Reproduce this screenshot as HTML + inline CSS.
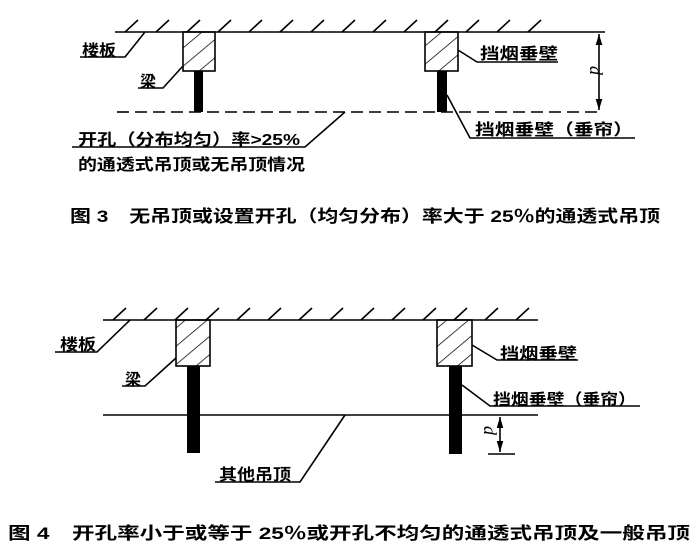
<!DOCTYPE html>
<html><head><meta charset="utf-8"><style>
html,body{margin:0;padding:0;background:#fff;}
svg{display:block;font-family:"Liberation Sans","Noto Sans CJK SC",sans-serif;}
</style></head><body>
<svg width="700" height="556" viewBox="0 0 700 556" xmlns="http://www.w3.org/2000/svg">
<defs>
<pattern id="h" width="14" height="14" patternUnits="userSpaceOnUse" patternTransform="rotate(-40)">
<line x1="0" y1="0" x2="14" y2="0" stroke="#000" stroke-width="1.5"/>
</pattern>
<marker id="a" viewBox="0 0 10 10" refX="10" refY="5" markerWidth="7" markerHeight="7" orient="auto-start-reverse">
<path d="M0,2 L10,5 L0,8 z" fill="#000"/>
</marker>
</defs>
<g stroke="#000" stroke-width="1.6" fill="none">
<line x1="115" y1="32" x2="605" y2="32"/>
<path d="M125,32l13,-12 M156,32l13,-12 M187,32l13,-12 M218,32l13,-12 M249,32l13,-12 M280,32l13,-12 M311,32l13,-12 M342,32l13,-12 M373,32l13,-12 M404,32l13,-12 M435,32l13,-12 M466,32l13,-12 M497,32l13,-12 M528,32l13,-12"/>
<rect x="183" y="32" width="32" height="39" fill="url(#h)"/>
<rect x="425" y="32" width="33" height="39" fill="url(#h)"/>
<line x1="117" y1="112" x2="603" y2="112" stroke-dasharray="12,6"/>
<line x1="599" y1="34" x2="599" y2="110" marker-start="url(#a)" marker-end="url(#a)"/>
<path d="M80,57 H125 L145,32"/>
<path d="M138,88 H163 L183,66"/>
<path d="M458,50 L477,62 H558"/>
<path d="M447,95 L470,138 H635"/>
<path d="M72,147 H305 L345,112"/>
<line x1="103" y1="320" x2="538" y2="320"/>
<path d="M113,320l13,-12 M144,320l13,-12 M175,320l13,-12 M206,320l13,-12 M237,320l13,-12 M268,320l13,-12 M299,320l13,-12 M330,320l13,-12 M361,320l13,-12 M392,320l13,-12 M423,320l13,-12 M454,320l13,-12 M485,320l13,-12 M516,320l13,-12"/>
<rect x="176" y="320" width="34" height="46" fill="url(#h)"/>
<rect x="437" y="320" width="35" height="46" fill="url(#h)"/>
<line x1="103" y1="415" x2="538" y2="415"/>
<line x1="500" y1="417" x2="500" y2="452" marker-start="url(#a)" marker-end="url(#a)"/>
<line x1="488" y1="454" x2="515" y2="454"/>
<path d="M55,352 H97 L130,320"/>
<path d="M122,386 H145 L176,358"/>
<path d="M472,345 L497,360 H578"/>
<path d="M462,385 L490,406 H640"/>
<path d="M215,482 H300 L345,415"/>
</g>
<g fill="#000">
<rect x="194" y="71" width="9" height="41"/>
<rect x="437" y="71" width="10" height="41"/>
<rect x="187" y="366" width="13" height="87"/>
<rect x="449" y="366" width="13" height="88"/>
</g>
<g font-size="16" fill="#000" font-weight="bold">
<text x="82" y="56" textLength="34" lengthAdjust="spacingAndGlyphs">楼板</text>
<text x="140" y="87">梁</text>
<text x="480" y="59" textLength="78" lengthAdjust="spacingAndGlyphs">挡烟垂壁</text>
<text x="475" y="135" textLength="158" lengthAdjust="spacingAndGlyphs">挡烟垂壁（垂帘）</text>
<text x="78" y="145" textLength="222" lengthAdjust="spacingAndGlyphs">开孔（分布均匀）率&gt;25%</text>
<text x="78" y="170" textLength="227" lengthAdjust="spacingAndGlyphs">的通透式吊顶或无吊顶情况</text>
<text x="60" y="350" textLength="36" lengthAdjust="spacingAndGlyphs">楼板</text>
<text x="125" y="385">梁</text>
<text x="500" y="359" textLength="77" lengthAdjust="spacingAndGlyphs">挡烟垂壁</text>
<text x="493" y="405" textLength="143" lengthAdjust="spacingAndGlyphs">挡烟垂壁（垂帘）</text>
<text x="219" y="480" textLength="72" lengthAdjust="spacingAndGlyphs">其他吊顶</text>
</g>
<g font-style="italic" font-family="Liberation Serif,serif" font-size="18" fill="#000">
<text x="590" y="66" transform="rotate(90 590 66)">d</text>
<text x="484" y="426" transform="rotate(90 484 426)">d</text>
</g>
<g font-size="17" fill="#000" font-weight="bold">
<text x="70" y="222" textLength="590" lengthAdjust="spacingAndGlyphs">图 3　无吊顶或设置开孔（均匀分布）率大于 25％的通透式吊顶</text>
<text x="8" y="539" textLength="682" lengthAdjust="spacingAndGlyphs">图 4　开孔率小于或等于 25％或开孔不均匀的通透式吊顶及一般吊顶</text>
</g>
</svg>
</body></html>
